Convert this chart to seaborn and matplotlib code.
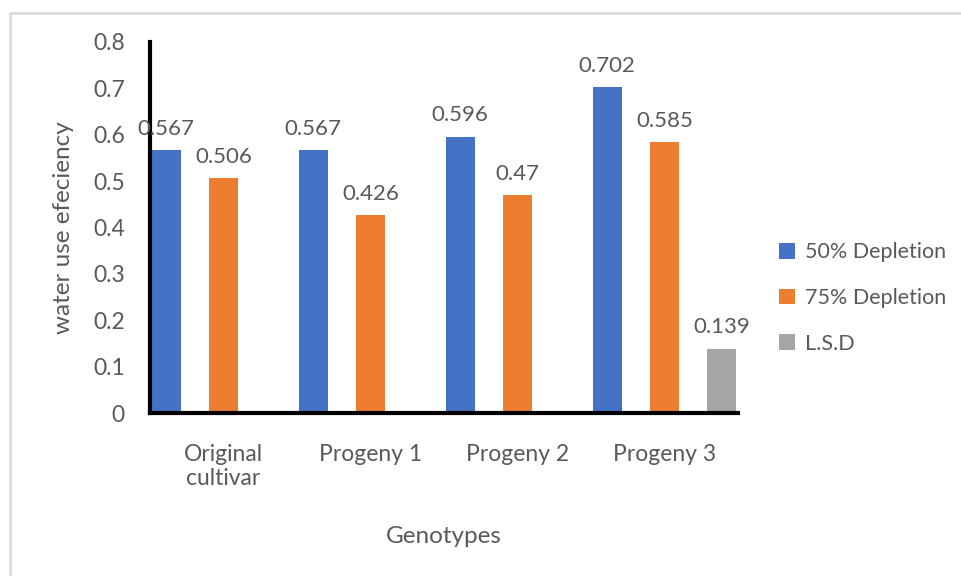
import matplotlib
matplotlib.use("Agg")
import matplotlib.pyplot as plt
import seaborn as sns
import pandas as pd
from matplotlib.lines import Line2D
from matplotlib.patches import Patch

genotypes = ["Original\ncultivar", "Progeny 1", "Progeny 2", "Progeny 3"]
treatments = ["50% Depletion", "75% Depletion", "L.S.D"]
depletion_50 = [0.567, 0.567, 0.596, 0.702]
depletion_75 = [0.506, 0.426, 0.47, 0.585]
lsd_value = 0.139
lsd_genotype = "Progeny 3"
y_ticks = [0, 0.1, 0.2, 0.3, 0.4, 0.5, 0.6, 0.7, 0.8]
colors = ["#4472C4", "#ED7D31", "#A5A5A5"]

rows = []
for g, v in zip(genotypes, depletion_50):
    rows.append({"Genotype": g, "Treatment": treatments[0], "WUE": v})
for g, v in zip(genotypes, depletion_75):
    rows.append({"Genotype": g, "Treatment": treatments[1], "WUE": v})
rows.append({"Genotype": lsd_genotype, "Treatment": treatments[2], "WUE": lsd_value})
df = pd.DataFrame(rows)

sns.set_style("white")
plt.rcParams["font.family"] = ["Lato", "DejaVu Sans"]
text_color = "#595959"
fs = 16.5

W, H = 961, 576
fig = plt.figure(figsize=(W / 100, H / 100), dpi=100)
ax = fig.add_axes([150 / W, (H - 413) / H, (738 - 150) / W, (413 - 42) / H])

sns.barplot(data=df, x="Genotype", y="WUE", hue="Treatment",
            order=genotypes, hue_order=treatments, palette=colors,
            width=1.17, gap=0.5, errorbar=None, saturation=1,
            linewidth=0, ax=ax, legend=False)

for cont in ax.containers:
    ax.bar_label(cont, fmt="%g", padding=8, fontsize=16, color=text_color)

ax.set_xlim(-0.5, 3.5)
ax.set_ylim(0, 0.8)
ax.set_yticks(y_ticks)
ax.set_yticklabels([f"{t:g}" for t in y_ticks])
ax.set_xticks(range(len(genotypes)))
ax.set_xticklabels(genotypes)
ax.set_xticks([-0.5, 0.5, 1.5, 2.5, 3.5], minor=True)

ax.tick_params(axis="y", direction="in", length=7, width=3, color="black",
               pad=18, labelsize=fs, labelcolor=text_color)
ax.tick_params(axis="x", which="major", length=0, pad=22,
               labelsize=fs, labelcolor=text_color)
ax.tick_params(axis="x", which="minor", direction="in", length=5, width=3,
               color="black")

for side in ["top", "right"]:
    ax.spines[side].set_visible(False)
for side in ["left", "bottom"]:
    ax.spines[side].set_linewidth(3)
    ax.spines[side].set_color("black")

ax.set_xlabel("Genotypes", fontsize=17.5, color=text_color, labelpad=27)
ax.set_ylabel("water use efeciency", fontsize=17.5, color=text_color, labelpad=14)

handles = [Patch(facecolor=c, edgecolor="none") for c in colors]
fig.legend(handles, treatments, loc="center left",
           bbox_to_anchor=(779 / W, (H - 298) / H), frameon=False,
           borderpad=0, borderaxespad=0,
           fontsize=15.5, labelcolor=text_color, handlelength=0.75,
           handleheight=0.75, handletextpad=0.45, labelspacing=1.2)

# light chart-area border
border = "#D9D9D9"
fig.add_artist(Line2D([10 / W, 10 / W], [0, (H - 13) / H], color=border, lw=1.8,
                      transform=fig.transFigure))
fig.add_artist(Line2D([10 / W, 1], [(H - 13) / H, (H - 13) / H], color=border,
                      lw=1.8, transform=fig.transFigure))

fig.savefig("out.png", dpi=100)
